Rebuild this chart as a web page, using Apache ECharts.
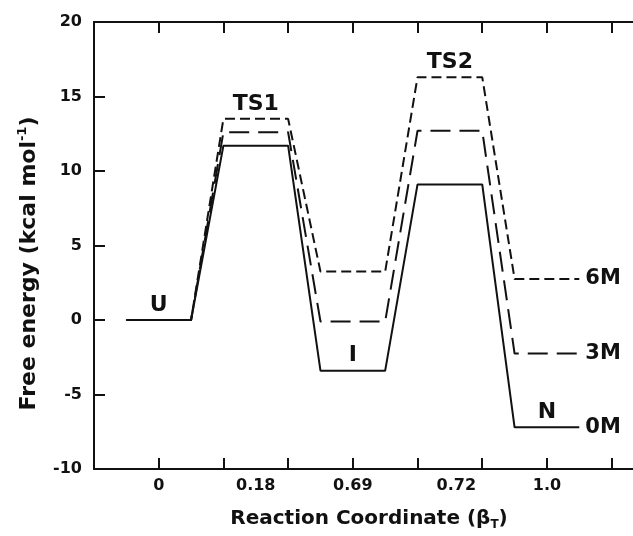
<!DOCTYPE html>
<html>
<head>
<meta charset="utf-8">
<script src="https://cdn.jsdelivr.net/npm/echarts@6/dist/echarts.min.js"></script>
<style>
  html, body { margin: 0; padding: 0; background: #fff; overflow: hidden; }
  #chart { width: 660px; height: 536px; }
</style>
</head>
<body>
<div id="chart"></div>
<script>
    // states along the reaction coordinate
    var stateNames = ['U', 'TS1', 'I', 'TS2', 'N'];
    var stateIsBarrier = [false, true, false, true, false];
    var plateauStart = [0.5, 2, 3.5, 5, 6.5];
    var plateauEnd = [1.5, 3, 4.5, 6, 7.5];

    // beta_T labels under the axis
    var tickLabelPos = [1, 2.5, 4, 5.6, 7];
    var tickLabels = ['0', '0.18', '0.69', '0.72', '1.0'];

    // free energy (kcal/mol) per state, one list per denaturant concentration
    var energy0M = [0, 11.7, -3.4, 9.1, -7.2];
    var energy3M = [0, 12.6, -0.1, 12.7, -2.25];
    var energy6M = [0, 13.5, 3.25, 16.3, 2.75];

    var font = 'DejaVu Sans';
    var ink = '#111';

    function $each(arr, fn) {
        for (var i = 0; i < arr.length; i++) fn(i, arr[i]);
    }
    function profile(energies) {
        var pts = [];
        $each(energies, function (i, e) {
            pts.push([plateauStart[i], e]);
            pts.push([plateauEnd[i], e]);
        });
        return pts;
    }

    // state names sit over the highest curve at barriers, over the lowest in wells
    var stateLabelData = [];
    $each(stateNames, function (i, n) {
        var levels = [energy0M[i], energy3M[i], energy6M[i]];
        var y = stateIsBarrier[i] ? Math.max.apply(null, levels) : Math.min.apply(null, levels);
        stateLabelData.push([(plateauStart[i] + plateauEnd[i]) / 2, y]);
    });

    function lineSeries(name, energies, dash) {
        return {
            name: name,
            type: 'line',
            data: profile(energies),
            symbol: 'none',
            silent: true,
            lineStyle: { color: ink, width: 2, type: dash },
            endLabel: {
                show: true,
                formatter: '{a}',
                distance: 6,
                color: ink,
                fontFamily: font,
                fontWeight: 'bold',
                fontSize: 21
            }
        };
    }

    var axisLine = { show: true, onZero: false, lineStyle: { color: ink, width: 2 } };
    var axisTick = { show: true, inside: true, length: 11, lineStyle: { color: ink, width: 2 } };

    // the frame runs past the right edge of the 633px window, as in the original
    var option = {
        animation: false,
        grid: { left: 94, top: 22, width: 550, height: 450 },
        xAxis: [
            {
                type: 'value',
                position: 'bottom',
                min: 0, max: 8.5, interval: 1,
                axisLine: axisLine,
                axisTick: axisTick,
                splitLine: { show: false },
                axisLabel: {
                    customValues: tickLabelPos,
                    formatter: function (v) {
                        var k = tickLabelPos.indexOf(v);
                        return k >= 0 ? tickLabels[k] : '';
                    },
                    margin: 9,
                    color: ink,
                    fontFamily: font,
                    fontWeight: 'bold',
                    fontSize: 16
                },
                name: '{t|Reaction Coordinate (β}{sub|T}{t|)}',
                nameLocation: 'middle',
                nameGap: 38,
                nameTextStyle: {
                    rich: {
                        t: { fontFamily: font, fontWeight: 'bold', fontSize: 20, lineHeight: 24, color: ink },
                        sub: { fontFamily: font, fontWeight: 'bold', fontSize: 12, lineHeight: 12, color: ink, verticalAlign: 'bottom' }
                    }
                }
            },
            {
                type: 'value',
                position: 'top',
                min: 0, max: 8.5, interval: 1,
                axisLine: axisLine,
                axisTick: axisTick,
                axisLabel: { show: false },
                splitLine: { show: false }
            }
        ],
        yAxis: [
            {
                type: 'value',
                position: 'left',
                min: -10, max: 20, interval: 5,
                axisLine: axisLine,
                axisTick: axisTick,
                splitLine: { show: false },
                axisLabel: {
                    margin: 12,
                    color: ink,
                    fontFamily: font,
                    fontWeight: 'bold',
                    fontSize: 16
                },
                name: '{t|Free energy (kcal mol}{sup|-1}{t|)}',
                nameLocation: 'middle',
                nameRotate: 90,
                nameGap: 52,
                nameTextStyle: {
                    padding: [0, 36, 0, 0],
                    rich: {
                        t: { fontFamily: font, fontWeight: 'bold', fontSize: 22, lineHeight: 26, color: ink },
                        sup: { fontFamily: font, fontWeight: 'bold', fontSize: 13, lineHeight: 14, color: ink, verticalAlign: 'top' }
                    }
                }
            },
            {
                type: 'value',
                position: 'right',
                min: -10, max: 20, interval: 5,
                axisLine: axisLine,
                axisTick: axisTick,
                axisLabel: { show: false },
                splitLine: { show: false }
            }
        ],
        series: [
            lineSeries('6M', energy6M, [10, 5]),
            lineSeries('3M', energy3M, [20, 9]),
            lineSeries('0M', energy0M, 'solid'),
            {
                type: 'scatter',
                data: stateLabelData,
                symbolSize: 0,
                silent: true,
                itemStyle: { opacity: 1 },
                label: {
                    show: true,
                    position: 'top',
                    distance: 4,
                    formatter: function (p) { return stateNames[p.dataIndex]; },
                    color: ink,
                    fontFamily: font,
                    fontWeight: 'bold',
                    fontSize: 22,
                    lineHeight: 22
                }
            }
        ]
    };

    var chart = echarts.init(document.getElementById('chart'));
    chart.setOption(option);
</script>
</body>
</html>
